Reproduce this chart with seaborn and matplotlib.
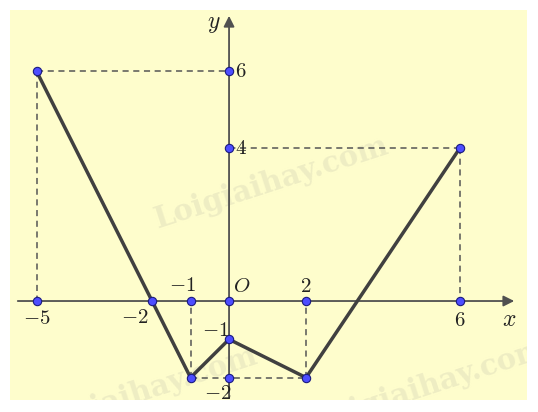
import numpy as np
import pandas as pd
import matplotlib
matplotlib.use("Agg")
import matplotlib.pyplot as plt
import seaborn as sns

# graph vertices (polyline)
path_x = [-5, -2, -1, 0, 2, 6]
path_y = [6, 0, -2, -1, -2, 4]

# extra marked points on the axes
axis_pts_x = [-5, -1, 0, 2, 6, 0, 0, 0]
axis_pts_y = [0, 0, 0, 0, 0, 6, 4, -2]

# dashed guide segments (x0, y0, x1, y1)
guides = [(-5, 6, 0, 6), (-5, 6, -5, 0), (6, 4, 0, 4), (6, 4, 6, 0),
          (-1, -2, -1, 0), (2, -2, 2, 0), (-1, -2, 2, -2)]

# labels: text, x, y
labels = [(r'$-5$', -5, -0.45), (r'$-2$', -2.45, -0.42), (r'$-1$', -1.2, 0.42),
          (r'$O$', 0.32, 0.38), (r'$2$', 2, 0.4), (r'$6$', 6, -0.5),
          (r'$x$', 7.27, -0.48), (r'$y$', -0.39, 7.25), (r'$6$', 0.31, 6),
          (r'$4$', 0.31, 4), (r'$-1$', -0.36, -0.76), (r'$-2$', -0.3, -2.4)]

sns.set_style("white")
plt.rcParams['mathtext.fontset'] = 'cm'

fig = plt.figure(figsize=(5.38, 4.12), dpi=100)
ax = fig.add_axes([10 / 538, 12 / 412, 517 / 538, 390 / 412])
ax.set_facecolor('#fefdcc')
ax.set_xlim(-5.69, 7.74)
ax.set_ylim(-2.585, 7.6)
for s in ax.spines.values():
    s.set_visible(False)
ax.set_xticks([])
ax.set_yticks([])

# watermarks
wm = dict(fontsize=21, fontweight='bold', family='DejaVu Serif', color='#eeedc3',
          rotation=18, ha='center', va='center', zorder=0, clip_on=True)
ax.text(1.1, 3.1, 'Loigiaihay.com', **wm)
ax.text(-2.3, -2.4, 'Loigiaihay.com', **wm)
ax.text(5.2, -2.2, 'Loigiaihay.com', **wm)

# dashed guides
for x0, y0, x1, y1 in guides:
    ax.plot([x0, x1], [y0, y1], ls=(0, (4, 3)), color='#555555', lw=1.1, zorder=1)

# axes with arrows
ax.annotate('', xy=(7.48, 0), xytext=(-5.56, 0),
            arrowprops=dict(arrowstyle='-|>', color='#505050', lw=1.3, mutation_scale=16))
ax.annotate('', xy=(0, 7.52), xytext=(0, -2.6),
            arrowprops=dict(arrowstyle='-|>', color='#505050', lw=1.3, mutation_scale=16))

df = pd.DataFrame({'x': path_x, 'y': path_y})
sns.lineplot(data=df, x='x', y='y', sort=False, color='#404040', lw=2.5, ax=ax, zorder=3)

pts = pd.DataFrame({'x': path_x + axis_pts_x, 'y': path_y + axis_pts_y})
sns.scatterplot(data=pts, x='x', y='y', color='#4d4dff', edgecolor='#1a1a80',
                linewidth=0.8, s=36, ax=ax, zorder=4)
ax.set_xlabel('')
ax.set_ylabel('')

for t, x, y in labels:
    fs = 17 if t in (r'$x$', r'$y$') else 15
    ax.text(x, y, t, fontsize=fs, ha='center', va='center', color='#222222', zorder=5)

fig.savefig('out.png', dpi=100, facecolor='white')
